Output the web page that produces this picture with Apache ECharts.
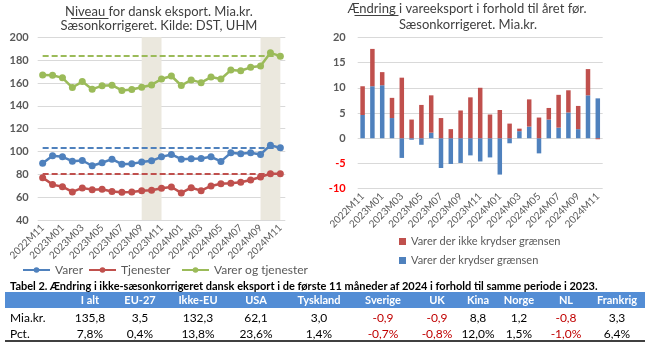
<!DOCTYPE html>
<html>
<head>
<meta charset="utf-8">
<script src="https://cdn.jsdelivr.net/npm/echarts@6/dist/echarts.min.js"></script>
<style>
  html,body{margin:0;padding:0;background:#fff;}
  #wrap{position:relative;width:650px;height:344px;overflow:hidden;font-family:Lato, 'Liberation Sans', sans-serif;}
  #chart{position:absolute;left:0;top:0;width:650px;height:344px;}
  #tbl{position:absolute;left:0;top:0;width:650px;height:344px;pointer-events:none;}
  .cell{position:absolute;width:60px;text-align:center;white-space:nowrap;}
</style>
</head>
<body>
<div id="wrap">
  <div id="chart"></div>
  <div id="tbl"></div>
</div>
<script>
// ---------- DATA ----------
const categories = ['2022M11','2022M12','2023M01','2023M02','2023M03','2023M04','2023M05','2023M06','2023M07','2023M08','2023M09','2023M10','2023M11','2023M12','2024M01','2024M02','2024M03','2024M04','2024M05','2024M06','2024M07','2024M08','2024M09','2024M10','2024M11'];

const varer = [89.8, 96.3, 95.3, 91.5, 92.1, 87.5, 90.1, 93.3, 88.9, 89.2, 90.7, 91.8, 95.3, 97.4, 93.3, 93.6, 93.9, 95.3, 91.3, 98.8, 98.0, 98.8, 97.4, 105.5, 103.2];
const tjenester = [77.1, 71.0, 69.2, 64.6, 68.1, 66.6, 66.9, 64.9, 64.3, 64.6, 65.7, 66.0, 67.8, 68.9, 63.7, 68.3, 65.7, 69.8, 71.8, 72.1, 73.0, 75.0, 77.7, 80.6, 80.6];
const varerOgTjenester = [167.0, 166.8, 164.5, 156.0, 161.2, 154.6, 157.5, 158.1, 153.5, 154.3, 156.3, 158.3, 163.5, 166.1, 157.8, 162.7, 160.3, 165.2, 163.5, 171.3, 170.7, 173.7, 174.9, 186.4, 183.5];

// dashed reference levels (left chart)
const refVarer = 103.2;
const refTjenester = 80.6;
const refVarerOgTjenester = 183.8;

// shaded periods (left chart)
const shadeRanges = [['2023M09','2023M11'], ['2024M09','2024M11']];

// right chart: change vs. year before, bn. DKK
const krydserGraensen = [4.6, 10.3, 10.5, 4.0, -3.9, -0.3, -1.3, 1.1, -5.9, -5.1, -4.9, -3.4, -4.6, -3.8, -7.2, -1.0, 1.4, 2.3, -3.0, 3.7, 2.1, 5.1, 1.8, 8.5, 7.9];
const ikkeKrydserGraensen = [5.7, 7.4, 2.6, 4.0, 12.0, 3.7, 6.6, 7.4, 4.0, 1.8, 5.5, 8.1, 10.0, 4.7, 5.6, 2.9, 0.5, 5.4, 4.1, 2.3, 6.5, 4.4, 4.6, 5.2, -0.2];

// table
const tableTitle = 'Tabel 2. Ændring i ikke-sæsonkorrigeret dansk eksport i de første 11 måneder af 2024 i forhold til samme periode i 2023.';
const tableCols = ['I alt','EU-27','Ikke-EU','USA','Tyskland','Sverige','UK','Kina','Norge','NL','Frankrig'];
const tableRowLabels = ['Mia.kr.','Pct.'];
const tableMiaKr = [135.8, 3.5, 132.3, 62.1, 3.0, -0.9, -0.9, 8.8, 1.2, -0.8, 3.3];
const tablePct = [7.8, 0.4, 13.8, 23.6, 1.4, -0.7, -0.8, 12.0, 1.5, -1.0, 6.4];

// ---------- STYLE ----------
const FONT = 'Lato';
const BLUE = '#4F81BD', RED = '#C0504D', GREEN = '#9BBB59';
const AXIS_TXT = '#595959';
const GRID_LINE = '#D9D9D9';
const TITLE_TXT = '#404040';

const chart = echarts.init(document.getElementById('chart'), null, {renderer: 'canvas'});

function lineSeries(name, data, color, ref, extra) {
  return Object.assign({
    name: name, type: 'line', data: data,
    xAxisIndex: 0, yAxisIndex: 0,
    symbol: 'circle', symbolSize: 7, showAllSymbol: true,
    lineStyle: {color: color, width: 2.5},
    itemStyle: {color: color},
    emphasis: {disabled: true},
    animation: false,
    markLine: {
      silent: true, symbol: 'none', label: {show: false},
      lineStyle: {color: color, type: [6, 3], width: 2},
      data: [[{coord: [categories[0], ref]}, {coord: [categories[categories.length - 1], ref]}]]
    }
  }, extra || {});
}

const xAxisCommon = {
  type: 'category', data: categories, boundaryGap: true,
  axisTick: {show: false},
  axisLine: {show: false, onZero: false},
  axisLabel: {interval: 1, rotate: 45, fontFamily: FONT, fontSize: 10, color: AXIS_TXT, margin: 6}
};

function titleItem(text, cx, top) {
  return {text: text, left: cx, top: top, textAlign: 'center', padding: 0,
    textStyle: {fontFamily: FONT, fontSize: 13, fontWeight: 'normal', color: TITLE_TXT}};
}

const option = {
  animation: false,
  textStyle: {fontFamily: FONT},
  title: [
    titleItem('Niveau for dansk eksport. Mia.kr.', 159, 5),
    titleItem('Sæsonkorrigeret. Kilde: DST, UHM', 159, 19.5),
    titleItem('Ændring i vareeksport i forhold til året før.', 467, 2),
    titleItem('Sæsonkorrigeret. Mia.kr.', 468, 18.5)
  ],
  grid: [
    {left: 37.7, top: 37.3, width: 247.6, height: 182.7},
    {left: 357.7, top: 37.3, width: 245, height: 151.4}
  ],
  xAxis: [
    Object.assign({gridIndex: 0}, xAxisCommon),
    Object.assign({gridIndex: 1}, xAxisCommon)
  ],
  yAxis: [
    {type: 'value', gridIndex: 0, min: 40, max: 200, interval: 20,
     axisLine: {show: false}, axisTick: {show: false},
     splitLine: {lineStyle: {color: GRID_LINE, width: 1}},
     axisLabel: {fontFamily: FONT, fontSize: 11, fontWeight: 'bold', color: AXIS_TXT, margin: 9}},
    {type: 'value', gridIndex: 1, min: -10, max: 20, interval: 5,
     axisLine: {show: false}, axisTick: {show: false},
     splitLine: {lineStyle: {color: GRID_LINE, width: 1}},
     axisLabel: {fontFamily: FONT, fontSize: 11, fontWeight: 'bold', margin: 12,
       color: function (v) { return Number(v) < 0 ? '#FF0000' : AXIS_TXT; }}}
  ],
  legend: [
    {data: ['Varer'], left: 17, top: 259, itemWidth: 27, itemHeight: 7, itemGap: 4,
     textStyle: {fontFamily: FONT, fontSize: 12, color: AXIS_TXT}},
    {data: ['Tjenester'], left: 83, top: 259, itemWidth: 27, itemHeight: 7,
     textStyle: {fontFamily: FONT, fontSize: 12, color: AXIS_TXT}},
    {data: ['Varer og tjenester'], left: 176, top: 259, itemWidth: 27, itemHeight: 7,
     textStyle: {fontFamily: FONT, fontSize: 12, color: AXIS_TXT}},
    {data: ['Varer der ikke krydser grænsen', 'Varer der krydser grænsen'], orient: 'vertical',
     left: 394, top: 231, itemWidth: 7, itemHeight: 7, itemGap: 8, icon: 'rect',
     textStyle: {fontFamily: FONT, fontSize: 11, color: AXIS_TXT}}
  ],
  series: [
    lineSeries('Varer', varer, BLUE, refVarer),
    lineSeries('Tjenester', tjenester, RED, refTjenester),
    lineSeries('Varer og tjenester', varerOgTjenester, GREEN, refVarerOgTjenester, {
      markArea: {
        silent: true,
        itemStyle: {color: '#EBE8DE'},
        data: shadeRanges.map(r => [{xAxis: r[0]}, {xAxis: r[1]}])
      }
    }),
    {name: 'Varer der krydser grænsen', type: 'bar', xAxisIndex: 1, yAxisIndex: 1,
     stack: 'v', data: krydserGraensen, barWidth: 4.5, itemStyle: {color: BLUE}, emphasis: {disabled: true}},
    {name: 'Varer der ikke krydser grænsen', type: 'bar', xAxisIndex: 1, yAxisIndex: 1,
     stack: 'v', data: ikkeKrydserGraensen, barWidth: 4.5, itemStyle: {color: RED}, emphasis: {disabled: true}}
  ],
  graphic: [
    {type: 'line', shape: {x1: 71, y1: 18.5, x2: 108.5, y2: 18.5}, style: {stroke: TITLE_TXT, lineWidth: 1}, silent: true},
    {type: 'line', shape: {x1: 354.5, y1: 15.5, x2: 398.5, y2: 15.5}, style: {stroke: TITLE_TXT, lineWidth: 1}, silent: true}
  ]
};
chart.setOption(option);

// ---------- TABLE (real text) ----------
const tbl = document.getElementById('tbl');
function fmt(v, suffix) {
  return v.toFixed(1).replace('.', ',') + (suffix || '');
}
const colCenters = [90, 140, 198, 256, 319, 383, 437, 478, 519, 566, 617];
let html = '';
html += '<div style="position:absolute;left:10px;top:279px;font-size:11px;font-weight:bold;color:#000;white-space:nowrap;">' + tableTitle + '</div>';
html += '<div style="position:absolute;left:5px;top:292px;width:640px;height:16px;background:#538DD5;"></div>';
tableCols.forEach((c, i) => {
  html += '<div class="cell" style="left:' + (colCenters[i] - 30) + 'px;top:293px;font-size:11px;font-weight:bold;color:#fff;">' + c + '</div>';
});
const rows = [tableMiaKr.map(v => fmt(v)), tablePct.map(v => fmt(v, '%'))];
const rowVals = [tableMiaKr, tablePct];
const rowTops = [310, 326];
tableRowLabels.forEach((lab, r) => {
  html += '<div style="position:absolute;left:10px;top:' + rowTops[r] + 'px;font-size:12px;color:#000;">' + lab + '</div>';
  rows[r].forEach((s, i) => {
    const col = rowVals[r][i] < 0 ? '#C00000' : '#000';
    html += '<div class="cell" style="left:' + (colCenters[i] - 30) + 'px;top:' + rowTops[r] + 'px;font-size:12px;color:' + col + ';">' + s + '</div>';
  });
});
html += '<div style="position:absolute;left:5px;top:340px;width:640px;height:1.5px;background:#404040;"></div>';
tbl.innerHTML = html;
</script>
</body>
</html>
